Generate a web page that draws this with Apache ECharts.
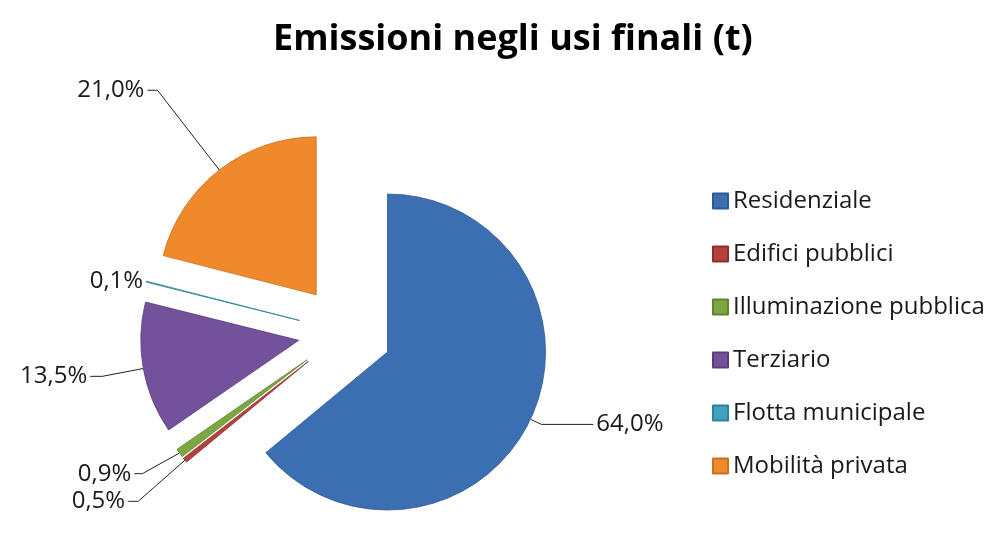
<!DOCTYPE html>
<html>
<head>
<meta charset="utf-8">
<script src="https://cdn.jsdelivr.net/npm/echarts@6/dist/echarts.min.js"></script>
<style>
  html, body { margin: 0; padding: 0; background: #fff; }
  #chart { width: 1006px; height: 554px; }
</style>
</head>
<body>
<div id="chart"></div>
<script>
/* dati */
var categorie = ['Residenziale', 'Edifici pubblici', 'Illuminazione pubblica', 'Terziario', 'Flotta municipale', 'Mobilità privata'];
var valori = [64.0, 0.5, 0.9, 13.5, 0.1, 21.0];

(function () {
  var myChart = echarts.init(document.getElementById('chart'));
  var colori = ['#3b6fb2', '#b5403c', '#7ca640', '#73529b', '#3fa3bf', '#ef892c'];
  var bordi = ['#2f5b94', '#8f2f2c', '#5f8530', '#5a3f7c', '#2f8299', '#c8701f'];
  // linee guida delle etichette: [length, length2, visibile]
  var linee = [[12, 52, true], [60, 10, true], [35, 8, true], [44, 12, true], [0, 0, false], [101, 10, true]];

  var dati = categorie.map(function (c, i) {
    return {
      name: c,
      value: valori[i],
      selected: true,
      itemStyle: { color: colori[i], borderColor: bordi[i], borderWidth: 0.8 },
      labelLine: { length: linee[i][0], length2: linee[i][1], show: linee[i][2] }
    };
  });

  var option = {
    title: {
      text: 'Emissioni negli usi finali (t)',
      left: 268,
      top: 17,
      textStyle: { fontFamily: 'Open Sans', fontSize: 36, fontWeight: 'bold', color: '#000' }
    },
    legend: {
      orient: 'vertical',
      left: 707,
      top: 184,
      itemWidth: 15,
      itemHeight: 15,
      itemGap: 29,
      icon: 'rect',
      data: categorie,
      selectedMode: false,
      textStyle: { fontFamily: 'Open Sans', fontSize: 24, lineHeight: 24, color: '#1a1a1a' }
    },
    series: [{
      type: 'pie',
      center: [345, 332],
      radius: 158,
      startAngle: 90,
      clockwise: true,
      selectedMode: 'multiple',
      selectedOffset: 47,
      animation: false,
      silent: true,
      data: dati,
      label: {
        show: true,
        fontFamily: 'Open Sans',
        fontSize: 24,
        color: '#1a1a1a',
        distanceToLabelLine: 3,
        formatter: function (p) {
          return p.value.toFixed(1).replace('.', ',') + '%';
        }
      },
      labelLine: {
        show: true,
        lineStyle: { color: '#222', width: 1 }
      }
    }]
  };
  myChart.setOption(option);
  window.addEventListener('resize', function () {
    myChart.resize();
  });
})();
</script>
</body>
</html>
